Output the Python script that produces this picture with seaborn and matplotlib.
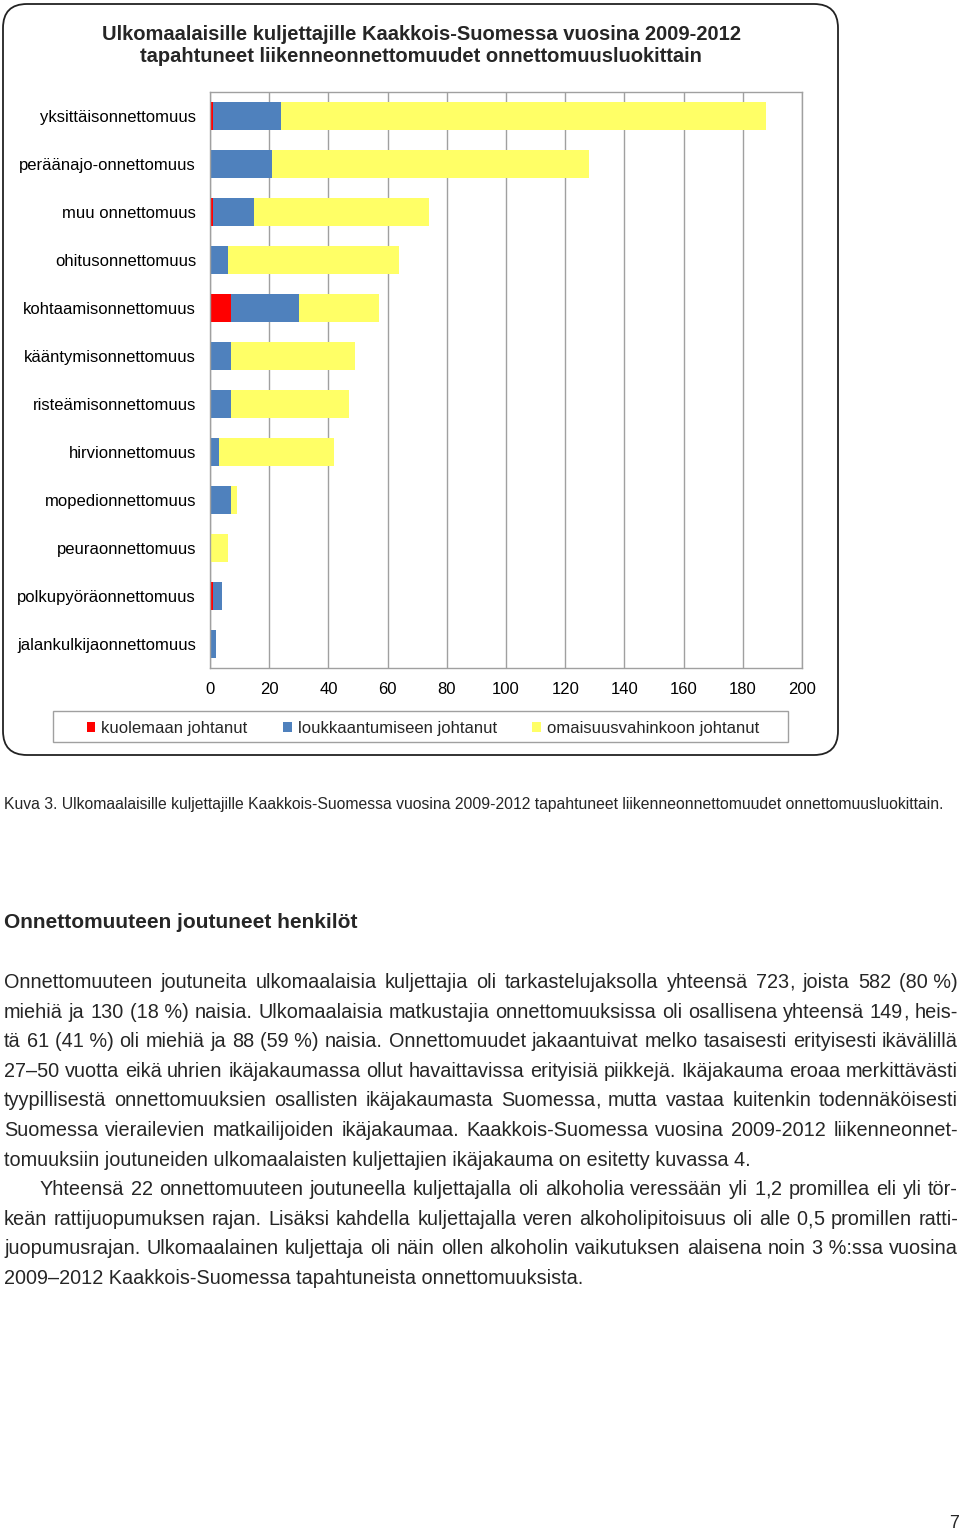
import matplotlib
matplotlib.use("Agg")
import pandas as pd
import matplotlib.pyplot as plt
import seaborn as sns
from matplotlib.patches import FancyBboxPatch, Patch, Rectangle

# data
categories = ["yksittäisonnettomuus", "peräänajo-onnettomuus", "muu onnettomuus",
              "ohitusonnettomuus", "kohtaamisonnettomuus", "kääntymisonnettomuus",
              "risteämisonnettomuus", "hirvionnettomuus", "mopedionnettomuus",
              "peuraonnettomuus", "polkupyöräonnettomuus", "jalankulkijaonnettomuus"]
kuolema = [1, 0, 1, 0, 7, 0, 0, 0, 0, 0, 1, 0]
loukkaantuminen = [23, 21, 14, 6, 23, 7, 7, 3, 7, 0, 3, 2]
omaisuusvahinko = [164, 107, 59, 58, 27, 42, 40, 39, 2, 6, 0, 0]
x_ticks = [0, 20, 40, 60, 80, 100, 120, 140, 160, 180, 200]
series_names = ["kuolemaan johtanut", "loukkaantumiseen johtanut", "omaisuusvahinkoon johtanut"]
series_colors = ["#FF0000", "#4F81BD", "#FFFF66"]

title_lines = ["Ulkomaalaisille kuljettajille Kaakkois-Suomessa vuosina 2009-2012",
               "tapahtuneet liikenneonnettomuudet onnettomuusluokittain"]
caption = ("Kuva 3. Ulkomaalaisille kuljettajille Kaakkois-Suomessa vuosina 2009-2012 "
           "tapahtuneet liikenneonnettomuudet onnettomuusluokittain.")
heading = "Onnettomuuteen joutuneet henkilöt"
NB = "\u00a0"
# (text, indent, justified)
body_lines = [
    (f"Onnettomuuteen joutuneita ulkomaalaisia kuljettajia oli tarkastelujaksolla yhteensä 723, joista 582 (80{NB}%)", 0, True),
    (f"miehiä ja 130 (18{NB}%) naisia. Ulkomaalaisia matkustajia onnettomuuksissa oli osallisena yhteensä 149, heis-", 0, True),
    (f"tä 61 (41{NB}%) oli miehiä ja 88 (59{NB}%) naisia. Onnettomuudet jakaantuivat melko tasaisesti erityisesti ikävälillä", 0, True),
    ("27–50 vuotta eikä uhrien ikäjakaumassa ollut havaittavissa erityisiä piikkejä. Ikäjakauma eroaa merkittävästi", 0, True),
    ("tyypillisestä onnettomuuksien osallisten ikäjakaumasta Suomessa, mutta vastaa kuitenkin todennäköisesti", 0, True),
    ("Suomessa vierailevien matkailijoiden ikäjakaumaa. Kaakkois-Suomessa vuosina 2009-2012 liikenneonnet-", 0, True),
    ("tomuuksiin joutuneiden ulkomaalaisten kuljettajien ikäjakauma on esitetty kuvassa 4.", 0, False),
    ("Yhteensä 22 onnettomuuteen joutuneella kuljettajalla oli alkoholia veressään yli 1,2 promillea eli yli tör-", 36, True),
    ("keän rattijuopumuksen rajan. Lisäksi kahdella kuljettajalla veren alkoholipitoisuus oli alle 0,5 promillen ratti-", 0, True),
    (f"juopumusrajan. Ulkomaalainen kuljettaja oli näin ollen alkoholin vaikutuksen alaisena noin 3{NB}%:ssa vuosina", 0, True),
    ("2009–2012 Kaakkois-Suomessa tapahtuneista onnettomuuksista.", 0, False),
]
page_number = "7"

df = pd.DataFrame({"luokka": categories, "kuolema": kuolema,
                   "loukkaantuminen": loukkaantuminen, "omaisuus": omaisuusvahinko})
df["c1"] = df["kuolema"]
df["c2"] = df["c1"] + df["loukkaantuminen"]
df["c3"] = df["c2"] + df["omaisuus"]

sns.set_theme(style="white")
plt.rcParams["font.family"] = ["Liberation Sans", "DejaVu Sans"]

W, H = 960, 1531
fig = plt.figure(figsize=(W / 100, H / 100), dpi=100)

# page layer in pixel coordinates
bg = fig.add_axes([0, 0, 1, 1])
bg.set_xlim(0, W)
bg.set_ylim(H, 0)
bg.axis("off")
bg.add_patch(FancyBboxPatch((3, 4), 835, 751, boxstyle="round,pad=0,rounding_size=24",
                            facecolor="white", edgecolor="#222222", linewidth=1.3))
bg.add_patch(Rectangle((53, 711), 735, 31, facecolor="white", edgecolor="#A0A0A0", linewidth=1))

# chart: stacked bars drawn as overlapping cumulative totals
ax = fig.add_axes([210 / W, 1 - 668 / H, 592 / W, 576 / H])
for col, color in zip(["c3", "c2", "c1"], series_colors[::-1]):
    sns.barplot(data=df, x=col, y="luokka", orient="h", color=color, saturation=1,
                width=0.58, errorbar=None, linewidth=0, ax=ax)
ax.set_xlim(0, 200)
ax.set_ylim(11.5, -0.5)
ax.set_xticks(x_ticks)
ax.set_xlabel("")
ax.set_ylabel("")
ax.xaxis.grid(True, color="#A0A0A0", linewidth=1)
ax.yaxis.grid(False)
ax.set_axisbelow(True)
for sp in ax.spines.values():
    sp.set_color("#A0A0A0")
    sp.set_linewidth(1)
ax.tick_params(axis="x", length=0, pad=10, labelsize=12, labelcolor="black")
ax.tick_params(axis="y", length=0, pad=10, labelsize=12, labelcolor="black")

handles = [Patch(facecolor=c, edgecolor="none") for c in series_colors]
ax.legend(handles, series_names, loc="center", bbox_to_anchor=(423 / W, 1 - 728.5 / H),
          bbox_transform=fig.transFigure, ncol=3, frameon=False, fontsize=12,
          handlelength=0.5, handleheight=0.5, handletextpad=0.35, columnspacing=2.15)

for i, line in enumerate(title_lines):
    bg.text(421, 39.5 + i * 23, line, ha="center", va="baseline",
            fontsize=14.5, fontweight="bold")

renderer = fig.canvas.get_renderer()


def text_width(s, size, weight="normal"):
    t = bg.text(0, 0, s, fontsize=size, fontweight=weight)
    w = t.get_window_extent(renderer).width
    t.remove()
    return w


cap_size = 11 * 940 / text_width(caption, 11)
bg.text(4, 809, caption, fontsize=cap_size, va="baseline")

bg.text(4, 928, heading, fontsize=15, fontweight="bold", va="baseline")


def word_pieces(word):
    # commas drawn on their own so the word bitmaps share one baseline
    parts = word.split(",")
    out = []
    for k, p in enumerate(parts):
        if p:
            out.append(p)
        if k < len(parts) - 1:
            out.append(",")
    return out


body_size = 15 * 748 / text_width(body_lines[6][0], 15)
x_left, x_right = 4, 958
for i, (line, indent, justify) in enumerate(body_lines):
    y = round(988 + i * 29.6)
    x0 = x_left + indent
    if not justify:
        bg.text(x0, y, line, fontsize=body_size, va="baseline")
        continue
    words = line.split(" ")
    pieces = [word_pieces(w) for w in words]
    piece_w = [[text_width(p, body_size) for p in ps] for ps in pieces]
    widths = [sum(pw) for pw in piece_w]
    gap = (x_right - x0 - sum(widths)) / (len(words) - 1)
    x = x0
    for ps, pw in zip(pieces, piece_w):
        for p, wd in zip(ps, pw):
            bg.text(x, y, p, fontsize=body_size, va="baseline")
            x += wd
        x += gap

bg.text(959, 1528, page_number, fontsize=13, ha="right", va="baseline")

fig.savefig("out.png", dpi=100, facecolor="white")
